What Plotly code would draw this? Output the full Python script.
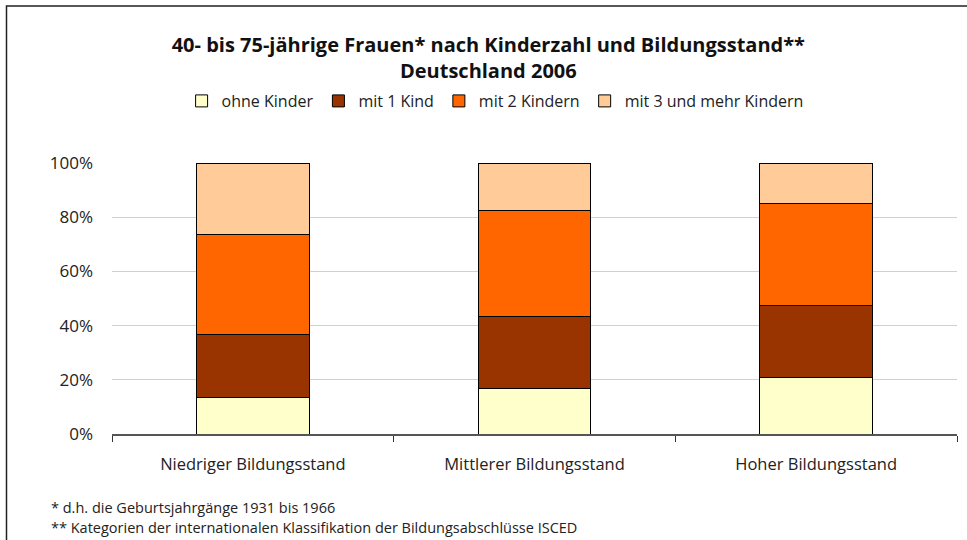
import plotly.graph_objects as go

categories = ["Niedriger Bildungsstand", "Mittlerer Bildungsstand", "Hoher Bildungsstand"]
series_names = ["ohne Kinder", "mit 1 Kind", "mit 2 Kindern", "mit 3 und mehr Kindern"]
ohne_kinder = [13.6, 16.7, 20.7]
mit_1_kind = [23.2, 26.5, 26.6]
mit_2_kindern = [36.7, 39.1, 37.8]
mit_3_und_mehr = [26.5, 17.7, 14.9]
y_ticks = [0, 20, 40, 60, 80, 100]
y_tick_labels = ["0%", "20%", "40%", "60%", "80%", "100%"]
colors = ["#FFFFCC", "#993300", "#FF6600", "#FFCC99"]

FONT = "Open Sans"
W, H = 967, 540
L, R, T, B = 112, 10, 163, 106

fig = go.Figure()
for name, vals, col in zip(series_names, [ohne_kinder, mit_1_kind, mit_2_kindern, mit_3_und_mehr], colors):
    fig.add_trace(go.Bar(
        x=categories, y=vals, name=name,
        marker=dict(color=col, line=dict(color="#000000", width=1)),
        hoverinfo="x+y+name",
    ))

pw = W - L - R
ph = H - T - B

fig.update_layout(
    width=W, height=H,
    barmode="stack", bargap=0.6,
    paper_bgcolor="white", plot_bgcolor="white",
    margin=dict(l=L, r=R, t=T, b=B),
    font=dict(family=FONT, size=15, color="#222222"),
    title=dict(
        text="<b>40- bis 75-jährige Frauen* nach Kinderzahl und Bildungsstand**<br>Deutschland 2006</b>",
        x=0.505, xanchor="center", xref="container",
        y=1 - 52 / H, yanchor="top", yref="container",
        font=dict(family=FONT, size=20, color="#111111"),
    ),
    legend=dict(
        orientation="h", x=0.512, xanchor="center", xref="container",
        y=1 - 101 / H, yanchor="middle", yref="container",
        font=dict(family=FONT, size=16, color="#222222"),
        itemwidth=30, traceorder="normal",
    ),
    xaxis=dict(
        showline=True, linecolor="#555555", linewidth=1.5,
        ticks="outside", ticklen=6, tickcolor="#333333", tickson="boundaries",
        ticklabelstandoff=14,
        tickfont=dict(family=FONT, size=16.5, color="#222222"),
        showgrid=False,
    ),
    yaxis=dict(
        range=[0, 100], tickmode="array", tickvals=y_ticks, ticktext=y_tick_labels,
        showgrid=True, gridcolor="#D0D0D0", gridwidth=1,
        showline=False, zeroline=False,
        ticks="", ticklabelstandoff=18,
        tickfont=dict(family=FONT, size=17, color="#222222"),
    ),
    showlegend=True,
)

fig.add_annotation(
    text="* d.h. die Geburtsjahrgänge 1931 bis 1966",
    xref="paper", yref="paper", x=(49 - L) / pw, y=(H - B - 507) / ph,
    xanchor="left", yanchor="middle", showarrow=False,
    font=dict(family=FONT, size=14.5, color="#222222"),
)
fig.add_annotation(
    text="** Kategorien der internationalen Klassifikation der Bildungsabschlüsse ISCED",
    xref="paper", yref="paper", x=(49 - L) / pw, y=(H - B - 527) / ph,
    xanchor="left", yanchor="middle", showarrow=False,
    font=dict(family=FONT, size=14.5, color="#222222"),
)

# outer chart frame
fig.add_shape(
    type="rect", xref="paper", yref="paper",
    x0=(6.5 - L) / pw, x1=(W + 10 - L) / pw,
    y0=(H - B - (H + 10)) / ph, y1=(H - B - 6) / ph,
    line=dict(color="#222222", width=1.5), fillcolor="rgba(0,0,0,0)", layer="below",
)

fig.write_html(
    "out.html",
    config={"displayModeBar": False},
    post_script="document.body.style.margin='0';document.body.style.overflow='hidden';",
)
